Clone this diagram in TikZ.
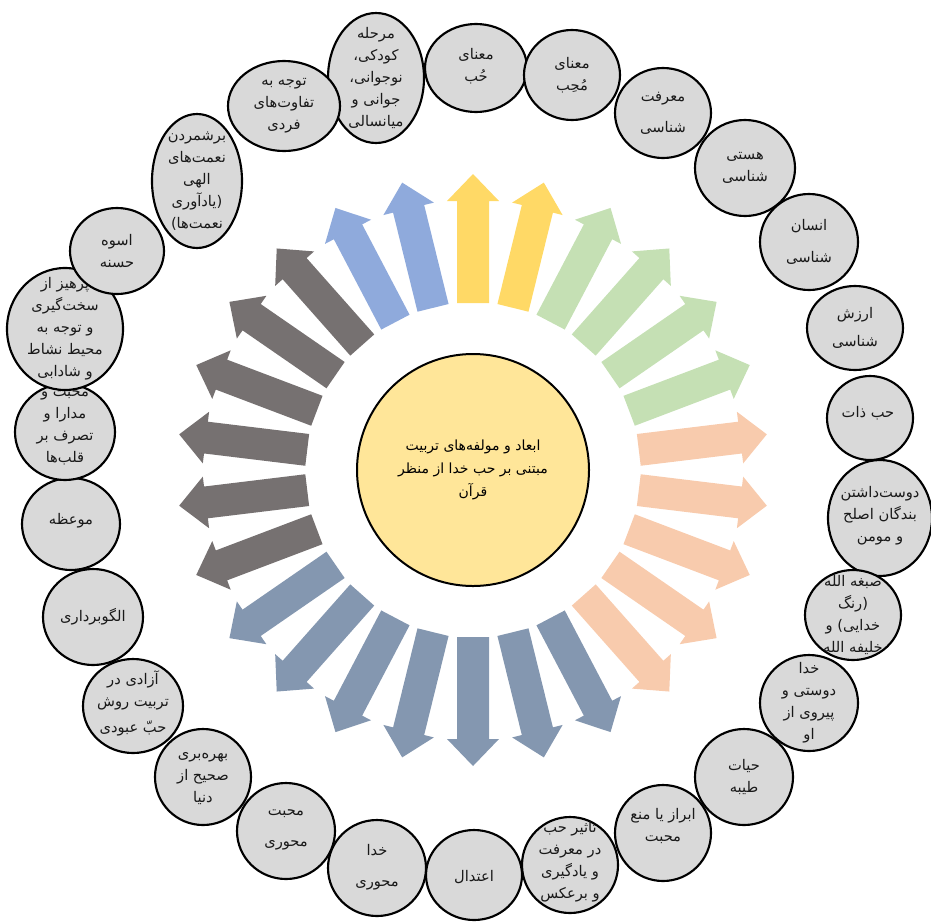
\documentclass[tikz,border=0pt]{standalone}
\usepackage{fontspec}
\usetikzlibrary{shapes.geometric}
\newfontfamily\arabicfont[Script=Arabic]{DejaVu Sans}
\TeXXeTstate=1
\newcommand{\rl}[1]{\beginR#1\endR}

\definecolor{hubyellow}{HTML}{FFE699}
\definecolor{bubblegray}{HTML}{D9D9D9}
\definecolor{petalyellow}{HTML}{FFD966}
\definecolor{petalgreen}{HTML}{C5E0B4}
\definecolor{petalorange}{HTML}{F8CBAD}
\definecolor{petalslate}{HTML}{8497B0}
\definecolor{petalgray}{HTML}{767171}
\definecolor{petalblue}{HTML}{8FAADC}

\tikzset{
  bubble/.style={draw=black, line width=1.6pt, fill=bubblegray},
  bubtext/.style={align=center, inner sep=0pt, text=black!90,
    font=\arabicfont\fontsize{11}{16.5}\selectfont},
  petal/.style={shift={(473,470)}, rotate={90-#1*360/26}},
}

\begin{document}
\begin{tikzpicture}[x=0.75pt, y=-0.75pt]
  \useasboundingbox (0,0) rectangle (931,921);

  % Arrows round the hub
  \foreach \k/\col in {0/petalyellow, 1/petalyellow,
      2/petalgreen, 3/petalgreen, 4/petalgreen, 5/petalgreen,
      6/petalorange, 7/petalorange, 8/petalorange, 9/petalorange, 10/petalorange,
      11/petalslate, 12/petalslate, 13/petalslate, 14/petalslate, 15/petalslate, 16/petalslate, 17/petalslate,
      18/petalgray, 19/petalgray, 20/petalgray, 21/petalgray, 22/petalgray, 23/petalgray,
      24/petalblue, 25/petalblue}
    \fill[\col, petal=\k] (167,-16) -- (269,-16) -- (269,-26) -- (296,0)
      -- (269,26) -- (269,16) -- (167,16) -- cycle;

  % Hub
  \node[circle, draw=black, line width=1.5pt, fill=hubyellow, minimum size=174pt,
    align=center, font=\arabicfont\fontsize{10.5}{17.5}\selectfont] (hub) at (473,470)
    {\rl{ابعاد و مولفه‌های تربیت}\\\rl{مبتنی بر حب خدا از منظر}\\\rl{قرآن}};

  % Top bubbles
  \draw[bubble] (376,78) ellipse (48 and 65);
  \node[bubtext] (marhale) at (376,78) {\rl{مرحله}\\\rl{کودکی،}\\\rl{نوجوانی،}\\\rl{جوانی و}\\\rl{میانسالی}};
  \draw[bubble] (284,106) ellipse (56 and 45);
  \node[bubtext] (tafavot) at (284,106) {\rl{توجه به}\\\rl{تفاوت‌های}\\\rl{فردی}};
  \draw[bubble] (476,68) ellipse (51 and 44);
  \node[bubtext] (hob) at (476,66) {\rl{معنای}\\\rl{حُب}};
  \draw[bubble] (572,75) ellipse (48 and 45);
  \node[bubtext] (moheb) at (572,75) {\rl{معنای}\\\rl{مُحِب}};
  \draw[bubble] (663,113) ellipse (48 and 45);
  \node[bubtext] (marefat) at (663,113) {\rl{معرفت}\\[7pt]\rl{شناسی}};

  % Right bubbles
  \draw[bubble] (745,168) ellipse (50 and 48);
  \node[bubtext] (hasti) at (745,168) {\rl{هستی}\\\rl{شناسی}};
  \draw[bubble] (809,242) ellipse (49 and 48);
  \node[bubtext] (ensan) at (809,242) {\rl{انسان}\\[7pt]\rl{شناسی}};
  \draw[bubble] (855,328) ellipse (48 and 42);
  \node[bubtext] (arzesh) at (855,328) {\rl{ارزش}\\[4pt]\rl{شناسی}};
  \draw[bubble] (870,418) ellipse (43 and 42);
  \node[bubtext] (hobzat) at (868,413) {\rl{حب ذات}};
  \draw[bubble] (880,518) ellipse (52 and 58);
  \node[bubtext] (doost) at (880,516) {\rl{دوست‌داشتن}\\\rl{بندگان اصلح}\\\rl{و مومن}};
  \draw[bubble] (853,615) ellipse (48 and 45);
  \node[bubtext] (sebgha) at (853,615) {\rl{صبغه الله}\\\rl{(رنگ}\\\rl{خدایی) و}\\\rl{خلیفه الله}};
  \draw[bubble] (809,703) ellipse (49 and 48);
  \node[bubtext] (doosti) at (809,703) {\rl{خدا}\\\rl{دوستی و}\\\rl{پیروی از}\\\rl{او}};

  % Bottom bubbles
  \draw[bubble] (744,777) ellipse (49 and 48);
  \node[bubtext] (hayat) at (744,777) {\rl{حیات}\\\rl{طیبه}};
  \draw[bubble] (663,833) ellipse (48 and 48);
  \node[bubtext] (ebraz) at (663,826) {\rl{ابراز یا منع}\\\rl{محبت}};
  \draw[bubble] (570,865) ellipse (48 and 48);
  \node[bubtext] (tasir) at (570,862) {\rl{تاثیر حب}\\\rl{در معرفت}\\\rl{و یادگیری}\\\rl{و برعکس}};
  \draw[bubble] (474,875) ellipse (48 and 45);
  \node[bubtext] (etedal) at (474,877) {\rl{اعتدال}};
  \draw[bubble] (377,868) ellipse (49 and 48);
  \node[bubtext] (khoda) at (377,867) {\rl{خدا}\\[7pt]\rl{محوری}};
  \draw[bubble] (286,831) ellipse (49 and 48);
  \node[bubtext] (mohabat) at (286,830) {\rl{محبت}\\[7pt]\rl{محوری}};
  \draw[bubble] (203,777) ellipse (48 and 48);
  \node[bubtext] (bahre) at (203,779) {\rl{بهره‌بری}\\\rl{صحیح از}\\\rl{دنیا}};

  % Left bubbles
  \draw[bubble] (133,706) ellipse (50 and 47);
  \node[bubtext] (azadi) at (133,703) {\rl{آزادی در}\\\rl{تربیت روش}\\[3pt]\rl{حبّ عبودی}};
  \draw[bubble] (93,617) ellipse (50 and 48);
  \node[bubtext] (olgu) at (93,617) {\rl{الگوبرداری}};
  \draw[bubble] (71,524) ellipse (49 and 46);
  \node[bubtext] (moeze) at (71,521) {\rl{موعظه}};
  \draw[bubble] (65,432) ellipse (50 and 48);
  \node[bubtext] (modara) at (65,428) {\rl{محبت و}\\\rl{مدارا و}\\\rl{تصرف بر}\\\rl{قلب‌ها}};
  \draw[bubble] (65,329) ellipse (58 and 61);
  \node[bubtext] (parhiz) at (65,329) {\rl{پرهیز از}\\\rl{سخت‌گیری}\\\rl{و توجه به}\\\rl{محیط نشاط}\\\rl{و شادابی}};
  \draw[bubble] (117,251) ellipse (47 and 43);
  \node[bubtext] (osve) at (117,251) {\rl{اسوه}\\\rl{حسنه}};
  \draw[bubble] (197,181) ellipse (45 and 67);
  \node[bubtext] (nemat) at (197,181) {\rl{برشمردن}\\\rl{نعمت‌های}\\\rl{الهی}\\\rl{(یادآوری}\\\rl{نعمت‌ها)}};
\end{tikzpicture}
\end{document}
